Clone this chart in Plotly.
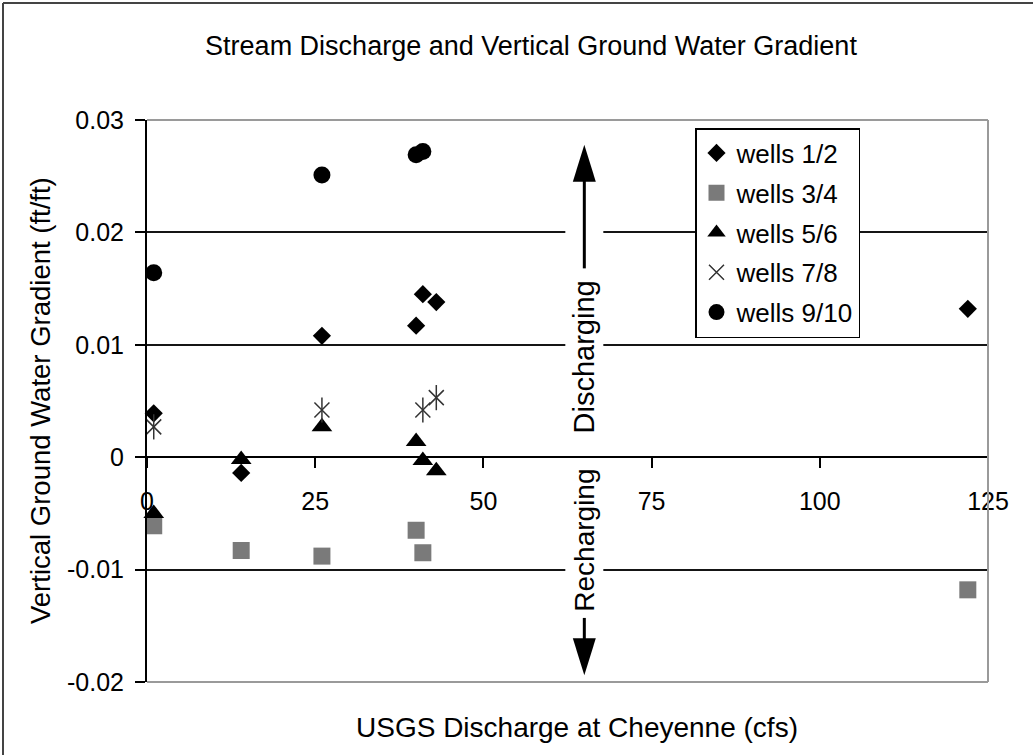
import plotly.graph_objects as go

# discharge (cfs) and vertical gradient (ft/ft) per well pair
x_12 = [1, 14, 26, 40, 41, 43, 122]
y_12 = [0.0039, -0.0014, 0.0108, 0.0117, 0.0145, 0.0138, 0.0132]
x_34 = [1, 14, 26, 40, 41, 122]
y_34 = [-0.0061, -0.0083, -0.0088, -0.0065, -0.0085, -0.0118]
x_56 = [1, 14, 26, 40, 41, 43]
y_56 = [-0.0050, -0.0002, 0.0027, 0.0014, -0.0003, -0.0012]
x_78 = [1, 26, 41, 43]
y_78 = [0.0027, 0.0042, 0.0042, 0.0053]
x_910 = [1, 26, 40, 41]
y_910 = [0.0164, 0.0251, 0.0269, 0.0272]

x_ticks = [0, 25, 50, 75, 100, 125]
y_ticks = [-0.02, -0.01, 0, 0.01, 0.02, 0.03]
y_tick_text = ["-0.02", "-0.01", "0", "0.01", "0.02", "0.03"]

FONT = "Liberation Sans, Arial, sans-serif"
W, H = 1033, 755
L, R, T, B = 147, 45, 120, 73
pw, ph = W - L - R, H - T - B

fig = go.Figure()

def add_series(x, y, name, symbol, color, size, line=None):
    fig.add_trace(go.Scatter(
        x=x, y=y, mode="markers", name=name, legendgroup=name,
        marker=dict(symbol=symbol, color=color, size=size, line=line or dict(width=0)),
        cliponaxis=False,
    ))

add_series(x_12, y_12, "wells 1/2", "diamond", "black", 14)
add_series(x_34, y_34, "wells 3/4", "square", "#7a7a7a", 17)
add_series(x_56, y_56, "wells 5/6", "triangle-up", "black", 18)
add_series(x_78, y_78, "wells 7/8", "x-thin-open", "#333333", 15, dict(width=1.5, color="#333333"))
fig.add_trace(go.Scatter(
    x=x_78, y=y_78, mode="markers", legendgroup="wells 7/8", showlegend=False,
    marker=dict(symbol="line-ns-open", color="#333333", size=18,
                line=dict(width=1.5, color="#333333")),
    cliponaxis=False,
))
add_series(x_910, y_910, "wells 9/10", "circle", "black", 17)

# white strip behind the Discharging / Recharging arrows
shapes = [
    dict(type="rect", xref="x", yref="y", xsizemode="pixel", xanchor=65, x0=-19, x1=19,
         y0=-0.0195, y1=0.028, fillcolor="white", line=dict(width=0), layer="between"),
    dict(type="line", xref="x", yref="y", x0=65, x1=65, y0=0.0168, y1=0.026,
         line=dict(color="black", width=3)),
    dict(type="path", xref="x", yref="y", xsizemode="pixel", ysizemode="pixel",
         xanchor=65, yanchor=0.0278, path="M0,0 L-11.5,-37 L11.5,-37 Z",
         fillcolor="black", line=dict(width=0)),
    dict(type="line", xref="x", yref="y", x0=65, x1=65, y0=-0.0143, y1=-0.017,
         line=dict(color="black", width=3)),
    dict(type="path", xref="x", yref="y", xsizemode="pixel", ysizemode="pixel",
         xanchor=65, yanchor=-0.0194, path="M0,0 L-11.5,37 L11.5,37 Z",
         fillcolor="black", line=dict(width=0)),
]
# plot frame (top, right, bottom)
for x0, y0, x1, y1 in [(0, 1, 1, 1), (1, 0, 1, 1), (0, 0, 1, 0)]:
    shapes.append(dict(type="line", xref="x domain", yref="y domain", x0=x0, y0=y0, x1=x1, y1=y1,
                       line=dict(color="#9a9a9a", width=2), layer="above"))
# outer chart border (left and top)
bx = (3 - L) / pw
by = (H - B - 3) / ph
shapes.append(dict(type="line", xref="paper", yref="paper", x0=bx, x1=bx, y0=-0.2, y1=by,
                   line=dict(color="#444444", width=2)))
shapes.append(dict(type="line", xref="paper", yref="paper", x0=bx, x1=1.2, y0=by, y1=by,
                   line=dict(color="#444444", width=2)))

annotations = [
    dict(text="Discharging", x=65, y=0.0089, xref="x", yref="y", textangle=-90,
         showarrow=False, font=dict(size=29)),
    dict(text="Recharging", x=65, y=-0.0074, xref="x", yref="y", textangle=-90,
         showarrow=False, font=dict(size=28)),
    dict(text="Vertical Ground Water Gradient (ft/ft)", x=(40 - L) / pw, y=0.5,
         xref="paper", yref="paper", xanchor="center", yanchor="middle", textangle=-90,
         showarrow=False, font=dict(size=27.5)),
    dict(text="USGS Discharge at Cheyenne (cfs)", x=(577 - L) / pw, y=(H - B - 727) / ph,
         xref="paper", yref="paper", xanchor="center", yanchor="middle",
         showarrow=False, font=dict(size=28)),
]

fig.update_layout(
    width=W, height=H,
    margin=dict(l=L, r=R, t=T, b=B),
    paper_bgcolor="white", plot_bgcolor="white",
    font=dict(family=FONT, size=25, color="black"),
    title=dict(text="Stream Discharge and Vertical Ground Water Gradient",
               x=531 / W, y=1 - 46 / H, xref="container", yref="container",
               xanchor="center", yanchor="middle", font=dict(size=27)),
    # x axis crosses at zero gradient
    xaxis=dict(range=[0, 125], anchor="free", position=0.4, side="bottom",
               showline=True, linecolor="black", linewidth=2,
               ticks="outside", ticklen=10, tickwidth=2, tickcolor="black",
               tickvals=x_ticks, ticklabelstandoff=12, tickfont=dict(size=25),
               showgrid=False, zeroline=False),
    yaxis=dict(range=[-0.02, 0.03], tickvals=y_ticks, ticktext=y_tick_text,
               showline=True, linecolor="black", linewidth=2,
               ticks="outside", ticklen=10, tickwidth=2, tickcolor="black",
               ticklabelstandoff=6, tickfont=dict(size=25),
               showgrid=True, gridcolor="#151515", gridwidth=1.5, zeroline=False),
    legend=dict(x=(695 - L) / pw, y=(H - B - 128) / ph, xanchor="left", yanchor="top",
                bgcolor="white", bordercolor="black", borderwidth=1.5,
                font=dict(size=26), tracegroupgap=3),
    shapes=shapes,
    annotations=annotations,
)

fig.write_html("out.html", config={"displayModeBar": False},
               post_script="document.body.style.margin='0';")
